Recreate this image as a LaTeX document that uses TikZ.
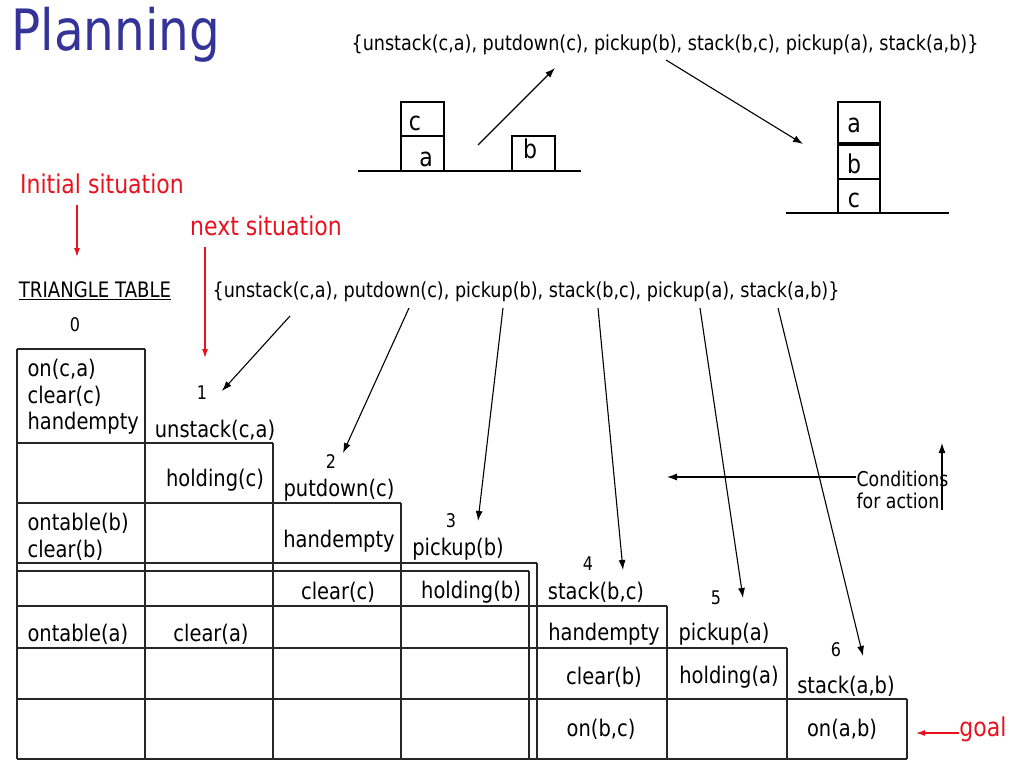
\documentclass[tikz,border=0pt]{standalone}
\usepackage{fontspec}
\setmainfont[FakeStretch=0.85]{DejaVu Sans}
\usepackage{tikz}
\usetikzlibrary{arrows.meta}
\definecolor{titleblue}{RGB}{51,51,153}
\definecolor{labelred}{RGB}{232,18,30}

\begin{document}
\begin{tikzpicture}[x=1pt,y=-1pt,line width=1.1pt,
    cell/.style={inner sep=0pt,font=\fontsize{22.9}{26}\selectfont},
    num/.style={inner sep=0pt,font=\fontsize{18.8}{20}\selectfont},
    letter/.style={inner sep=0pt,font=\fontsize{25.9}{28}\selectfont},
    redlabel/.style={inner sep=0pt,text=labelred,font=\fontsize{25.9}{28}\selectfont},
    ptr/.style={-{Latex[length=10pt,width=7pt]}},
    redptr/.style={-{Latex[length=9pt,width=6pt]},draw=labelred}]
    \useasboundingbox (0,0) rectangle (1024,768);
    \node[anchor=base west,inner sep=0pt,text=titleblue,font=\fontsize{57}{60}\selectfont] (title) at (11,50) {Planning};
    %%
    \begin{scope}
      % blocks world, start and goal
      \node[inner sep=0pt,font=\fontsize{20.7}{22}\selectfont] (plantop) at (665,45) {\{unstack(c,a), putdown(c), pickup(b), stack(b,c), pickup(a), stack(a,b)\}};
      \draw (358,171) -- (581,171);
      \draw (401,102) rectangle (444,136);
      \draw (401,136) rectangle (444,171);
      \draw (512,136) rectangle (555,171);
      \node[letter] (c1) at (415,123) {c};
      \node[letter] (a1) at (426,159) {a};
      \node[letter] (b1) at (530,149) {b};
      \draw (786,213) -- (949,213);
      \draw (838,102) rectangle (880,143);
      \draw (838,145) rectangle (880,179);
      \draw (838,179) rectangle (880,213);
      \node[letter] (a2) at (854,125) {a};
      \node[letter] (b2) at (854,164) {b};
      \node[letter] (c2) at (854,200) {c};
      \coordinate (up0) at (478,145);
      \coordinate (up1) at (555,68);
      \coordinate (dn0) at (666,60);
      \coordinate (dn1) at (803,144);
      \draw[ptr] (up0) -- (up1);
      \draw[ptr] (dn0) -- (dn1);
    \end{scope}
    %%
    \node[redlabel] (init) at (102,184) {Initial situation};
    \node[redlabel] (next) at (266,226) {next situation};
    \coordinate (init1) at (77,205);
    \coordinate (init2) at (77,257);
    \coordinate (next1) at (205,247);
    \coordinate (next2) at (205,358);
    \draw[redptr] (init1) -- (init2);
    \draw[redptr] (next1) -- (next2);
    %%
    \begin{scope}
      % triangle table
      \node[inner sep=0pt,font=\fontsize{21.3}{22}\selectfont] (tt) at (95,291) {\underline{TRIANGLE TABLE}};
      \node[inner sep=0pt,font=\fontsize{20.7}{22}\selectfont] (plan) at (526,292) {\{unstack(c,a), putdown(c), pickup(b), stack(b,c), pickup(a), stack(a,b)\}};
      \foreach \y/\x in {349/145,443/273,503/401,563/537,571/529,606/667,648/787,699/907,759/907}
        \draw[black!85] (17,\y) -- (\x,\y);
      \foreach \x/\y in {17/349,145/349,273/443,401/503,529/571,537/563,667/606,787/648,907/699}
        \draw[black!85] (\x,\y) -- (\x,759);
      \node[num] (n0) at (75,325) {0};
      \node[num] (n1) at (202,393) {1};
      \node[num] (n2) at (331,462) {2};
      \node[num] (n3) at (451,521) {3};
      \node[num] (n4) at (588,564) {4};
      \node[num] (n5) at (716,598) {5};
      \node[num] (n6) at (836,650) {6};
      \node[cell,anchor=west,align=left,font=\fontsize{22.9}{26.5}\selectfont] (pre0) at (27,397) {on(c,a)\\clear(c)\\handempty};
      \node[cell] (act1) at (215,430) {unstack(c,a)};
      \node[cell] (hold1) at (215,480) {holding(c)};
      \node[cell] (act2) at (339,490) {putdown(c)};
      \node[cell,anchor=west,align=left,font=\fontsize{22.9}{27.5}\selectfont] (pre2) at (27,537) {ontable(b)\\clear(b)};
      \node[cell] (hand2) at (339,541) {handempty};
      \node[cell] (act3) at (458,549) {pickup(b)};
      \node[cell] (clr2) at (338,592) {clear(c)};
      \node[cell] (hold3) at (471,592) {holding(b)};
      \node[cell] (act4) at (596,592) {stack(b,c)};
      \node[cell,anchor=west] (pre4) at (27,634) {ontable(a)};
      \node[cell] (clr1) at (211,634) {clear(a)};
      \node[cell] (hand4) at (604,634) {handempty};
      \node[cell] (act5) at (724,634) {pickup(a)};
      \node[cell] (clr4) at (604,677) {clear(b)};
      \node[cell] (hold5) at (729,677) {holding(a)};
      \node[cell] (act6) at (846,686) {stack(a,b)};
      \node[cell] (on4) at (601,729) {on(b,c)};
      \node[cell] (on6) at (842,729) {on(a,b)};
      % pointers from the plan to the actions
      \coordinate (p1) at (290,316);
      \coordinate (p2) at (409,308);
      \coordinate (p3) at (503,308);
      \coordinate (p4) at (598,308);
      \coordinate (p5) at (700,308);
      \coordinate (p6) at (778,308);
      \coordinate (q1) at (222,391);
      \coordinate (q2) at (343,453);
      \coordinate (q3) at (478,521);
      \coordinate (q4) at (623,570);
      \coordinate (q5) at (743,598);
      \coordinate (q6) at (863,656);
      \foreach \i in {1,...,6}
        \draw[ptr] (p\i) -- (q\i);
    \end{scope}
    %%
    \node[inner sep=0pt,anchor=west,align=left,font=\fontsize{20.4}{22.5}\selectfont] (cond) at (856,490) {Conditions\\for action};
    \coordinate (cond1) at (856,477);
    \coordinate (cond2) at (667,477);
    \coordinate (cond3) at (942,510);
    \coordinate (cond4) at (942,443);
    \draw[ptr] (cond1) -- (cond2);
    \draw[ptr] (cond3) -- (cond4);
    \node[redlabel] (goal) at (983,729) {goal};
    \coordinate (goal1) at (916,733);
    \draw[redptr] (goal.west |- goal1) -- (goal1);
\end{tikzpicture}
\end{document}
